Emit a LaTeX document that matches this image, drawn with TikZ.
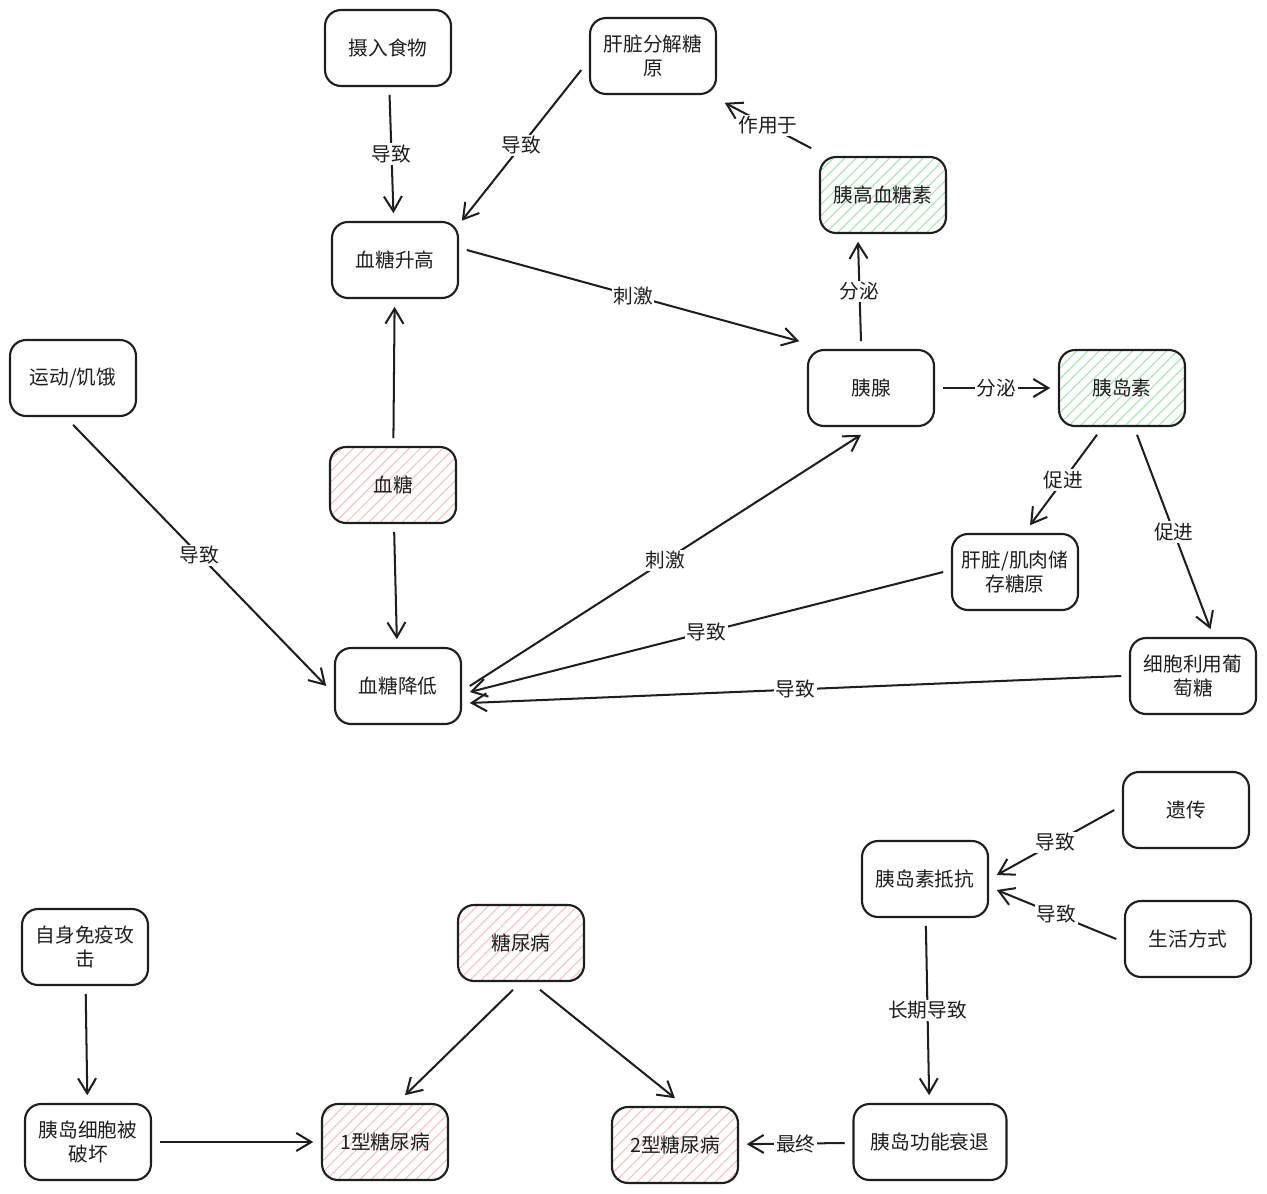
\documentclass[tikz,border=0pt]{standalone}
\usepackage{fontspec}
\newfontfamily\cjk{Noto Sans CJK SC}
\usetikzlibrary{arrows.meta,patterns.meta}

\definecolor{ink}{RGB}{30,30,30}
\definecolor{hatchgreen}{RGB}{160,230,172}
\definecolor{hatchred}{RGB}{250,190,190}

\begin{document}
\begin{tikzpicture}[
        x=0.02cm, y=-0.02cm,
        box/.style={
            draw=ink,
            line width=1.2pt,
            rounded corners=0.32cm,
            minimum width=2.52cm,
            minimum height=1.52cm,
            inner sep=2pt,
            outer sep=5pt,
            align=center,
            text=ink,
            font=\cjk\fontsize{11.2}{14}\selectfont
        },
        greenbox/.style={
            box,
            pattern={Lines[angle=45,distance=4.5pt,line width=0.6pt]},
            pattern color=hatchgreen
        },
        redbox/.style={
            box,
            pattern={Lines[angle=45,distance=4.5pt,line width=0.6pt]},
            pattern color=hatchred
        },
        link/.style={
            -{Straight Barb[length=3mm,width=3.6mm]},
            draw=ink,
            line width=1.15pt
        },
        tag/.style={
            midway,
            fill=white,
            inner sep=1pt,
            text=ink,
            font=\cjk\fontsize{11.2}{12}\selectfont
        }
    ]

    \useasboundingbox (0,0) rectangle (1267,1193);

    % ---------------------------------------------------------
    % Blood sugar regulation
    % ---------------------------------------------------------
    \node[box] (food) at (388,48) {摄入食物};
    \node[box] (ganjie) at (653,56) {肝脏分解糖\\原};
    \node[greenbox] (gluc) at (883,195) {胰高血糖素};
    \node[box] (high) at (395,260) {血糖升高};
    \node[box] (move) at (73,378) {运动/饥饿};
    \node[redbox] (xt) at (393,485) {血糖};
    \node[box] (panc) at (871,388) {胰腺};
    \node[greenbox] (ins) at (1122,388) {胰岛素};
    \node[box] (store) at (1015,572) {肝脏/肌肉储\\存糖原};
    \node[box] (cells) at (1193,676) {细胞利用葡\\萄糖};
    \node[box] (low) at (398,686) {血糖降低};

    \draw[link] (food) -- (high) node[tag] {导致};
    \draw[link] ([yshift=-0.28cm]ganjie.west) -- ([xshift=-0.1cm,yshift=-0.15cm]high.north east) node[tag] {导致};
    \draw[link] ([yshift=0.2cm]high.east) -- (panc.north west) node[tag] {刺激};
    \draw[link] ([xshift=-0.2cm]panc.north) -- ([xshift=-0.5cm]gluc.south) node[tag] {分泌};
    \draw[link] (gluc.north west) -- (ganjie.south east) node[tag] {作用于};
    \draw[link] (panc) -- (ins) node[tag] {分泌};
    \draw[link] ([xshift=-0.5cm]ins.south) -- ([xshift=0.3cm]store.north) node[tag] {促进};
    \draw[link] ([xshift=0.3cm]ins.south) -- ([xshift=0.35cm]cells.north) node[tag] {促进};
    \draw[link] (store.west) -- ([yshift=-0.12cm]low.east) node[tag] {导致};
    \draw[link] (cells.west) -- ([yshift=-0.34cm]low.east) node[tag] {导致};
    \draw[link] (low.east) -- ([xshift=-0.2cm]panc.south) node[tag] {刺激};
    \draw[link] (move.south) -- (low.west) node[tag] {导致};
    \draw[link] (xt) -- (high);
    \draw[link] (xt) -- (low);

    % ---------------------------------------------------------
    % Diabetes
    % ---------------------------------------------------------
    \node[box] (yi) at (1186,810) {遗传};
    \node[box] (resist) at (925,879) {胰岛素抵抗};
    \node[box] (life) at (1188,939) {生活方式};
    \node[box] (auto) at (85,947) {自身免疫攻\\击};
    \node[redbox] (dia) at (521,943) {糖尿病};
    \node[box] (broken) at (88,1142) {胰岛细胞被\\破坏};
    \node[redbox] (t1) at (385,1142) {1型糖尿病};
    \node[redbox] (t2) at (675,1145) {2型糖尿病};
    \node[box, minimum width=3.06cm] (fail) at (930,1142) {胰岛功能衰退};

    \draw[link] (yi.west) -- ([yshift=0.08cm]resist.east) node[tag] {导致};
    \draw[link] (life.west) -- ([yshift=-0.22cm]resist.east) node[tag] {导致};
    \draw[link] (resist) -- (fail) node[tag] {长期导致};
    \draw[link] (fail) -- (t2) node[tag] {最终};
    \draw[link] ([xshift=-0.16cm]dia.south) -- ([xshift=0.4cm]t1.north);
    \draw[link] ([xshift=0.38cm]dia.south) -- (t2.north);
    \draw[link] (auto) -- (broken);
    \draw[link] (broken) -- (t1);

\end{tikzpicture}
\end{document}
